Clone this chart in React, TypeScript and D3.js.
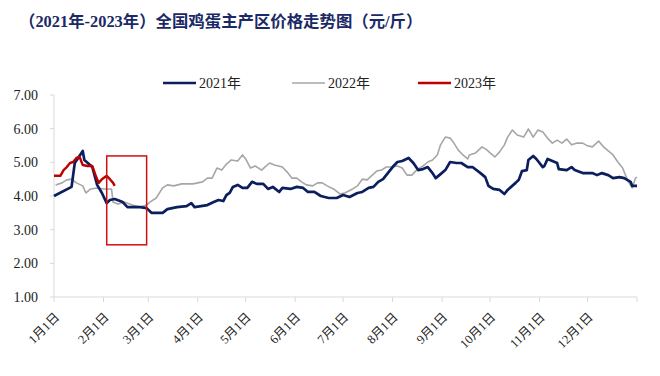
import React from "react";
import * as d3 from "d3";

const TITLE = "（2021年-2023年）全国鸡蛋主产区价格走势图（元/斤）";
const SERIES_NAMES = ["2021年", "2022年", "2023年"];
const MONTH_LABELS = ["1月1日", "2月1日", "3月1日", "4月1日", "5月1日", "6月1日", "7月1日", "8月1日", "9月1日", "10月1日", "11月1日", "12月1日"];
const MONTH_START_DAYS = [0, 31, 59, 90, 120, 151, 181, 212, 243, 273, 304, 334, 365];
const Y_TICKS = [1, 2, 3, 4, 5, 6, 7];

// [day of year, price]
const S2021: [number, number][] = [
  [0, 4.0], [11, 4.27], [13, 4.98], [18, 5.34], [19, 5.07], [24, 4.86], [27, 4.33], [30, 4.09], [33, 3.79], [35, 3.88],
  [38, 3.91], [43, 3.82], [46, 3.67], [54, 3.67], [58, 3.64], [61, 3.5], [68, 3.5], [71, 3.61], [77, 3.67], [83, 3.7],
  [86, 3.79], [88, 3.67], [96, 3.73], [100, 3.82], [103, 3.88], [106, 3.85], [108, 4.03], [110, 4.09], [112, 4.27], [115, 4.33],
  [118, 4.24], [121, 4.24], [124, 4.42], [127, 4.36], [131, 4.36], [134, 4.21], [137, 4.27], [141, 4.12], [143, 4.24], [148, 4.21],
  [152, 4.27], [156, 4.24], [159, 4.12], [163, 4.12], [167, 4.0], [172, 3.94], [177, 3.94], [181, 4.03], [185, 3.97], [190, 4.09],
  [193, 4.12], [197, 4.24], [200, 4.27], [203, 4.42], [206, 4.5], [209, 4.68], [212, 4.86], [215, 5.01], [218, 5.04], [222, 5.13],
  [225, 4.98], [228, 4.77], [231, 4.8], [234, 4.86], [237, 4.68], [239, 4.53], [242, 4.65], [245, 4.77], [248, 5.01], [252, 4.98],
  [255, 4.98], [259, 4.86], [262, 4.86], [267, 4.68], [270, 4.56], [272, 4.3], [275, 4.21], [279, 4.18], [282, 4.06], [284, 4.18],
  [289, 4.39], [291, 4.48], [293, 4.74], [296, 4.77], [297, 5.07], [300, 5.19], [302, 5.1], [306, 4.86], [307, 4.89], [309, 5.1],
  [312, 5.04], [315, 4.98], [316, 4.8], [321, 4.77], [324, 4.86], [326, 4.77], [331, 4.68], [337, 4.68], [340, 4.62], [343, 4.68],
  [347, 4.62], [350, 4.53], [354, 4.56], [357, 4.53], [361, 4.42], [362, 4.3], [365, 4.3],
];

const S2022: [number, number][] = [
  [1, 4.33], [5, 4.39], [8, 4.48], [11, 4.5], [14, 4.39], [18, 4.3], [20, 4.09], [23, 4.21], [27, 4.24], [31, 4.21],
  [36, 4.21], [37, 3.82], [40, 3.76], [44, 3.82], [49, 3.73], [54, 3.67], [58, 3.73], [60, 3.82], [64, 3.94], [68, 4.24],
  [71, 4.33], [75, 4.3], [80, 4.36], [87, 4.36], [93, 4.42], [96, 4.53], [99, 4.53], [102, 4.83], [105, 4.77], [108, 4.95],
  [111, 5.07], [115, 5.04], [118, 5.22], [120, 5.1], [123, 4.83], [126, 4.89], [130, 4.77], [132, 4.86], [135, 4.98], [138, 4.92],
  [143, 4.86], [146, 4.71], [149, 4.53], [152, 4.53], [155, 4.42], [158, 4.33], [162, 4.3], [165, 4.39], [168, 4.39], [171, 4.3],
  [175, 4.21], [179, 4.06], [182, 4.09], [187, 4.21], [190, 4.3], [193, 4.5], [196, 4.48], [200, 4.65], [202, 4.74], [205, 4.77],
  [208, 4.86], [212, 4.86], [215, 4.89], [218, 4.83], [221, 4.62], [224, 4.62], [227, 4.77], [231, 4.89], [234, 5.01], [237, 5.07],
  [240, 5.22], [242, 5.52], [245, 5.75], [248, 5.72], [250, 5.6], [253, 5.37], [256, 5.22], [259, 5.1], [260, 5.22], [264, 5.28],
  [268, 5.46], [271, 5.37], [273, 5.28], [276, 5.16], [279, 5.31], [282, 5.52], [284, 5.75], [287, 5.96], [290, 5.81], [294, 5.75],
  [297, 5.99], [300, 5.75], [303, 5.96], [306, 5.9], [309, 5.72], [312, 5.57], [315, 5.66], [318, 5.57], [321, 5.69], [324, 5.52],
  [327, 5.57], [331, 5.57], [334, 5.49], [337, 5.46], [341, 5.63], [344, 5.46], [347, 5.34], [350, 5.22], [353, 5.01], [356, 4.83],
  [359, 4.48], [362, 4.24], [364, 4.53], [365, 4.56],
];

const S2023: [number, number][] = [
  [0, 4.6], [4, 4.6], [6, 4.77], [8, 4.86], [10, 4.98], [12, 5.01], [14, 5.13], [16, 5.16], [18, 4.92], [21, 4.89],
  [24, 4.89], [26, 4.62], [28, 4.39], [30, 4.5], [33, 4.6], [35, 4.5], [37, 4.39], [38, 4.3],
];

// highlight box: [day start, day end], [price low, price high]
const BOX_DAYS = [33, 58];
const BOX_PRICES = [2.55, 5.19];

const COLORS = ["#0b1f5e", "#a6a6a6", "#c00000"];

export default function App() {
  const W = 660, H = 376;
  const x = d3.scaleLinear().domain([0, 365]).range([54, 637]);
  const y = d3.scaleLinear().domain([1, 7]).range([297, 95]);
  const line = d3.line<[number, number]>().x(d => x(d[0])).y(d => y(d[1]));
  const serif = "'Liberation Serif', 'Times New Roman', 'Noto Sans CJK SC', serif";
  const axisColor = "#d9d9d9";
  const legendX = [163, 292, 418];

  return (
    <svg width={W} height={H} style={{ position: "absolute", left: 0, top: 0, background: "#fff" }}>
      <rect x={0} y={0} width={W} height={H} fill="#fff" />
      <text x={19} y={27} fontFamily={serif} fontWeight="bold" fontSize={16.4} fill="#1b2a66">{TITLE}</text>

      {/* legend */}
      {SERIES_NAMES.map((n, i) => (
        <g key={n}>
          <line x1={legendX[i]} x2={legendX[i] + 33} y1={83} y2={83} stroke={COLORS[i]} strokeWidth={i === 1 ? 1.5 : 2.5} />
          <text x={legendX[i] + 36} y={88} fontFamily={serif} fontSize={14} fill="#222">{n}</text>
        </g>
      ))}

      {/* axes */}
      <line x1={54} x2={54} y1={95} y2={297} stroke={axisColor} />
      <line x1={54} x2={637} y1={297} y2={297} stroke={axisColor} />
      {Y_TICKS.map(t => (
        <g key={t}>
          <line x1={50} x2={54} y1={y(t)} y2={y(t)} stroke={axisColor} />
          <text x={38} y={y(t) + 5} textAnchor="end" fontFamily={serif} fontSize={14} fill="#222">{t.toFixed(2)}</text>
        </g>
      ))}
      {MONTH_START_DAYS.map(d => (
        <line key={d} x1={x(d)} x2={x(d)} y1={297} y2={302} stroke={axisColor} />
      ))}
      {MONTH_LABELS.map((l, i) => {
        const px = x(MONTH_START_DAYS[i]) + 6;
        const py = 318;
        return (
          <text key={l} x={px} y={py} textAnchor="end" fontFamily={serif} fontSize={12.5} fill="#222"
            transform={`rotate(-45 ${px} ${py})`}>{l}</text>
        );
      })}

      {/* series */}
      <path d={line(S2022) || ""} fill="none" stroke={COLORS[1]} strokeWidth={1.6} strokeLinejoin="round" />
      <path d={line(S2021) || ""} fill="none" stroke={COLORS[0]} strokeWidth={2.7} strokeLinejoin="round" />
      <path d={line(S2023) || ""} fill="none" stroke={COLORS[2]} strokeWidth={2.4} strokeLinejoin="round" />

      {/* highlight box */}
      <rect x={x(BOX_DAYS[0])} y={y(BOX_PRICES[1])} width={x(BOX_DAYS[1]) - x(BOX_DAYS[0])}
        height={y(BOX_PRICES[0]) - y(BOX_PRICES[1])} fill="none" stroke="#d01010" strokeWidth={1.5} />
    </svg>
  );
}
